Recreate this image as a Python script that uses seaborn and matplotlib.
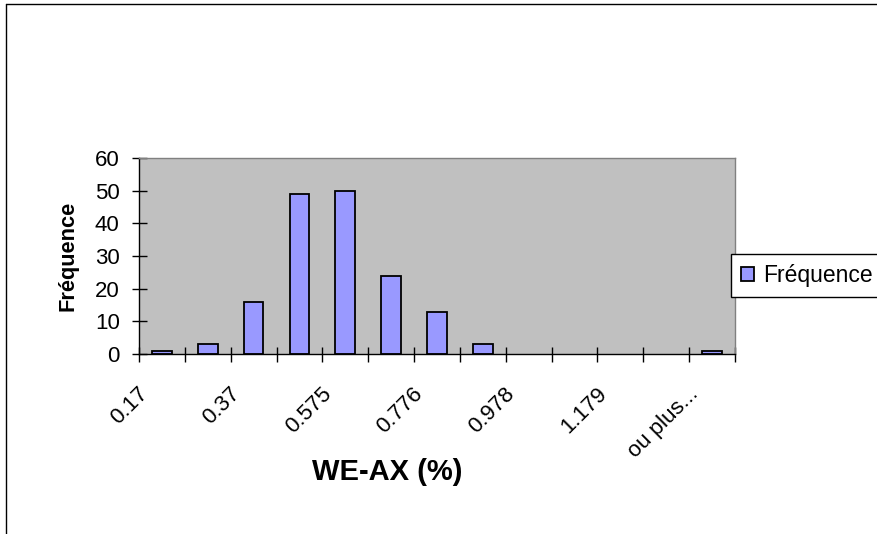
import matplotlib
matplotlib.use("Agg")
import matplotlib.pyplot as plt
import matplotlib.transforms as mtransforms
from matplotlib.patches import Patch
from matplotlib.lines import Line2D
import pandas as pd
import seaborn as sns

# Histogram classes (upper bin limits) and counts per class
bins = ["0.17", "0.27", "0.37", "0.473", "0.575", "0.675", "0.776",
        "0.877", "0.978", "1.078", "1.179", "1.28", "ou plus..."]
counts = [1, 3, 16, 49, 50, 24, 13, 3, 0, 0, 0, 0, 1]
yticks = [0, 10, 20, 30, 40, 50, 60]
x_title = "WE-AX (%)"
y_title = "Fréquence"
series_name = "Fréquence"

sns.set_theme(style="white")
plt.rcParams["font.family"] = ["Liberation Sans", "DejaVu Sans"]

df = pd.DataFrame({"classe": bins, "freq": counts})

W, H = 877, 534
fig = plt.figure(figsize=(W / 100, H / 100), dpi=100)
ax = fig.add_axes([139 / W, 1 - 354 / H, (735 - 139) / W, (354 - 158) / H])
ax.set_facecolor("#C0C0C0")

sns.barplot(data=df, x="classe", y="freq", order=bins, color="#9999FF",
            saturation=1, edgecolor="black", linewidth=1.3, width=0.43, ax=ax)
# empty classes get no outline
for patch in ax.patches:
    if patch.get_height() == 0:
        patch.set_linewidth(0)

# y axis
ax.set_ylim(yticks[0], yticks[-1])
ax.set_yticks(yticks)
ax.tick_params(axis="y", which="major", direction="inout", length=10.8,
               width=1, color="black", left=True, pad=8.5, labelsize=16,
               labelcolor="black")

# x axis: tick marks between classes, labels on every other class
n = len(bins)
ax.set_xlim(-0.5, n - 0.5)
ax.set_xticks([i - 0.5 for i in range(n + 1)])
ax.set_xticklabels([])
ax.set_xticks(list(range(0, n, 2)), minor=True)
ax.set_xticklabels(bins[::2], minor=True)
ax.tick_params(axis="x", which="major", direction="inout", length=10.8,
               width=1, color="black", bottom=True)
ax.tick_params(axis="x", which="minor", direction="out", length=0, pad=20.9,
               labelsize=16, labelcolor="black", bottom=True)
shift = mtransforms.ScaledTranslation(-24.5 / 100, 0, fig.dpi_scale_trans)
for lab in ax.get_xticklabels(minor=True):
    lab.set_rotation(45)
    lab.set_ha("right")
    lab.set_va("top")
    lab.set_rotation_mode("anchor")
    lab.set_transform(lab.get_transform() + shift)

ax.set_xlabel(x_title, fontsize=21, fontweight="bold", color="black")
ax.xaxis.set_label_coords(0.417, -0.53)
ax.set_ylabel(y_title, fontsize=15.7, fontweight="bold", color="black")
ax.yaxis.set_label_coords(-0.102, 0.5)

for side in ("left", "bottom"):
    ax.spines[side].set_color("black")
    ax.spines[side].set_linewidth(1)
for side in ("top", "right"):
    ax.spines[side].set_color("#808080")
    ax.spines[side].set_linewidth(1)
    ax.spines[side].set_visible(True)

handle = Patch(facecolor="#9999FF", edgecolor="black", linewidth=1.3,
               label=series_name)
leg = fig.legend(handles=[handle], loc="center left",
                 bbox_to_anchor=(731 / W, 1 - 275.5 / H), frameon=True,
                 fancybox=False, edgecolor="black", facecolor="white",
                 framealpha=1, fontsize=16.5, handlelength=0.55,
                 handleheight=0.55, handletextpad=0.4, borderpad=0.45,
                 borderaxespad=0)
leg.get_frame().set_linewidth(1)
for t in leg.get_texts():
    t.set_color("black")

# chart frame (top and left edges)
fig.add_artist(Line2D([6 / W, 1], [1 - 3.5 / H, 1 - 3.5 / H],
                      transform=fig.transFigure, color="black", lw=1))
fig.add_artist(Line2D([6 / W, 6 / W], [0, 1 - 3.5 / H],
                      transform=fig.transFigure, color="black", lw=1))

fig.savefig("out.png", dpi=100)
